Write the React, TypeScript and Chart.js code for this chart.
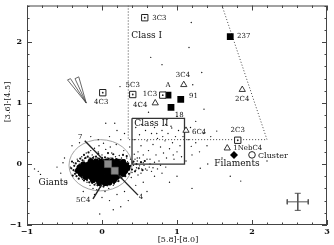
import React, { useEffect, useRef } from "react";
import { Chart, registerables } from "chart.js";

Chart.register(...registerables);

// ---------- data ----------
const xTicks = [-1, 0, 1, 2, 3];
const yTicks = [-1, 0, 1, 2];
const xTitle = "[5.8]-[8.0]";
const yTitle = "[3.6]-[4.5]";

const fieldStars: number[][] = [
  [-0.42,-0.05],[-0.38,0.02],[-0.36,-0.12],[-0.33,0.08],[-0.31,-0.18],[-0.29,-0.02],[-0.27,0.12],[-0.26,-0.25],[-0.24,0.05],[-0.22,-0.09],
  [-0.21,0.18],[-0.2,-0.3],[-0.19,0.01],[-0.17,0.1],[-0.16,-0.35],[-0.15,0.22],[-0.13,0.15],[-0.12,-0.4],[-0.1,0.26],[-0.09,0.08],
  [-0.07,-0.42],[-0.05,0.2],[-0.04,0.3],[-0.02,-0.38],[0.0,0.15],[0.02,0.34],[0.04,-0.45],[0.05,0.24],[0.07,0.1],[0.09,-0.4],
  [0.11,0.28],[0.13,0.18],[0.15,-0.35],[0.17,0.07],[0.19,0.32],[0.21,-0.28],[0.23,0.14],[0.25,-0.2],[0.27,0.04],[0.29,0.22],
  [0.31,-0.12],[0.33,0.1],[0.35,-0.05],[0.37,0.28],[0.39,-0.22],[0.41,0.02],[0.43,0.16],[0.45,-0.1],[0.47,0.05],[0.5,-0.03],
  [0.52,-0.15],[0.55,0.02],[0.58,-0.08],[0.6,0.08],[0.63,-0.05],[0.66,-0.12],[0.7,0.03],[0.74,-0.08],[0.78,-0.02],
  [-0.34,-0.08],[-0.3,0.04],[-0.28,-0.14],[-0.25,-0.04],[-0.23,0.09],[-0.21,-0.2],[-0.18,0.06],[-0.14,-0.28],[-0.11,0.12],[-0.08,-0.32],
  [-0.06,0.1],[-0.03,-0.3],[0.01,0.08],[0.03,-0.34],[0.06,0.06],[0.08,-0.3],[0.12,0.1],[0.14,-0.28],[0.18,0.12],[0.2,-0.22],
  [0.22,0.06],[0.24,-0.14],[0.26,0.1],[0.28,-0.08],[0.3,0.0],[0.32,-0.16],[0.34,0.04],[0.36,-0.1],[0.38,0.08],[0.4,-0.14],
  [0.42,-0.02],[0.44,0.08],[0.46,-0.06],[0.48,-0.18],[0.5,0.1],[0.53,-0.08],[0.56,-0.02],[0.6,-0.1],[0.64,0.0],[0.68,-0.06],
  [-0.5,0.1],[-0.55,-0.15],[-0.52,0.02],[-0.6,-0.05],[-0.85,-0.12],[-0.82,-0.17],[-0.9,-0.08],[-0.47,-0.3],[-0.4,0.3],[-0.3,0.35],
  [-0.25,-0.45],[-0.1,-0.5],[0.0,-0.55],[0.1,-0.6],[0.2,-0.5],[0.3,-0.45],[0.35,-0.6],[0.25,-0.7],[-0.03,-0.82],[0.15,-0.75],
  [0.45,-0.35],[0.55,-0.3],[0.6,-0.45],[0.7,-0.2],[0.8,-0.15],[0.85,-0.05],[0.9,-0.3],[1.0,-0.2],[1.31,-0.07],[1.41,0.0],
  [1.71,-0.2],[1.85,-0.28],[1.2,-0.4],[-0.05,0.4],[0.1,0.45],[0.2,0.55],[0.05,0.67],[0.17,0.67],[0.3,0.5],[0.25,0.4],[-0.15,0.45],
  [0.24,1.27],[0.8,1.63],[1.16,1.91],[1.19,2.32],[1.33,1.5],[1.36,0.9],[1.21,1.3],[0.65,1.75],[0.5,0.95],[0.62,0.85],
  [1.0,0.78],[1.25,0.7],[1.45,0.45],[1.53,0.54],[0.93,0.59],[1.19,0.29],[1.6,0.1],[2.2,0.05],
  [0.45,0.6],[0.5,0.48],[0.52,0.3],[0.55,0.15],[0.58,0.55],[0.6,0.38],[0.62,0.22],[0.64,0.08],[0.66,0.5],[0.68,0.32],
  [0.7,0.6],[0.72,0.15],[0.74,0.42],[0.76,0.05],[0.78,0.28],[0.8,0.55],[0.82,0.18],[0.84,0.38],[0.86,0.1],[0.88,0.5],
  [0.9,0.25],[0.92,0.62],[0.94,0.35],[0.96,0.08],[0.98,0.45],[1.0,0.2],[1.02,0.55],[1.04,0.3],[1.06,0.12],[0.48,0.2],
  [0.57,0.05],[0.73,0.5],[0.85,0.65],[0.95,0.15],[0.43,0.4],[0.47,0.1],[0.53,0.65],[0.67,0.7],[0.81,0.45],[1.08,0.45],
  [1.15,0.4],[1.2,0.15],[1.25,0.35],[1.3,0.2],[1.35,0.5],[1.4,0.3],[1.12,0.05],[1.18,0.6],
];

const giantHalo: number[][] = [
  [-0.38,-0.1],[-0.37,-0.03],[-0.36,-0.16],[-0.35,0.01],[-0.34,-0.2],[-0.33,-0.13],[-0.32,0.05],[-0.31,-0.24],[-0.3,-0.01],[-0.29,0.09],
  [-0.27,-0.22],[-0.26,0.06],[-0.24,-0.27],[-0.22,0.1],[-0.2,-0.26],[-0.19,0.12],[-0.17,-0.3],[-0.15,0.09],[-0.13,-0.31],[-0.12,0.1],
  [-0.1,-0.34],[-0.08,0.12],[-0.06,-0.35],[-0.04,0.09],[-0.02,-0.36],[0.0,0.1],[0.02,-0.37],[0.04,0.11],[0.07,-0.35],[0.09,0.09],
  [0.11,-0.33],[0.14,0.09],[0.16,-0.32],[0.19,0.08],[0.22,-0.28],[0.24,0.07],[0.26,-0.23],[0.3,0.06],[0.31,-0.2],[0.35,0.01],
  [0.36,-0.16],[0.38,-0.03],[0.4,-0.09],[0.42,0.04],[0.44,-0.12],[0.46,0.0],[0.49,-0.07],[0.52,0.03],[0.54,-0.1],[0.57,0.05],
  [-0.41,-0.07],[-0.4,0.04],[-0.39,-0.19],[0.33,0.13],[0.28,0.15],[-0.24,0.15],[-0.18,0.19],[0.15,0.16],[0.08,0.18],[-0.05,0.17],
];

const giantCore: number[][] = [
  [-0.15,0.04],[-0.08,0.04],[-0.01,0.04],[0.06,0.04],[0.13,0.04],[0.2,0.04],[0.28,0.03],
  [-0.25,-0.01],[-0.18,-0.01],[-0.11,-0.01],[-0.04,-0.01],[0.03,-0.01],[0.1,-0.01],[0.17,-0.01],[0.24,-0.01],[0.32,-0.02],
  [-0.3,-0.06],[-0.23,-0.06],[-0.16,-0.06],[-0.09,-0.06],[-0.02,-0.06],[0.05,-0.06],[0.12,-0.06],[0.19,-0.06],[0.26,-0.06],[0.34,-0.06],
  [-0.32,-0.11],[-0.25,-0.11],[-0.18,-0.11],[-0.11,-0.11],[-0.04,-0.11],[0.03,-0.11],[0.1,-0.11],[0.17,-0.11],[0.24,-0.11],[0.31,-0.11],
  [-0.28,-0.16],[-0.21,-0.16],[-0.14,-0.16],[-0.07,-0.16],[0.0,-0.16],[0.07,-0.16],[0.14,-0.16],[0.21,-0.16],[0.28,-0.16],
  [-0.22,-0.21],[-0.15,-0.21],[-0.08,-0.21],[-0.01,-0.21],[0.06,-0.21],[0.13,-0.21],[0.2,-0.21],
  [-0.12,-0.26],[-0.05,-0.26],[0.02,-0.26],[0.09,-0.26],[0.16,-0.26],
  [-0.03,-0.31],[0.04,-0.31],[0.1,-0.3],
];

const openSquares: number[][] = [[0.57,2.4],[0.01,1.17],[0.41,1.14],[0.81,1.13],[1.81,0.39]];
const filledSquares: number[][] = [[0.88,1.13],[1.05,1.06],[0.92,0.93],[1.71,2.09]];
const openTriangles: number[][] = [[1.09,1.3],[0.71,1.0],[1.87,1.22],[1.12,0.55],[1.67,0.26]];
const filledDiamond: number[][] = [[1.76,0.15]];
const clusterCircle: number[][] = [[2.0,0.15]];
const graySquares: number[][] = [[0.08,0.0],[0.17,-0.11]];

const classIIBox: number[][] = [[0.4,0.75],[1.1,0.75],[1.1,0],[0.4,0],[0.4,0.75]];
const classIBoundary: number[][] = [[0.35,2.6],[0.35,0.4],[2.2,0.4],[1.6,2.6]];
const line74: number[][] = [[-0.23,0.38],[0.48,-0.51]];
const line5C4: number[][] = [[0.0,-0.33],[-0.12,-0.57]];
const reddenA: number[][] = [[-0.21,1.0],[-0.46,1.38],[-0.42,1.4],[-0.21,1.0]];
const reddenB: number[][] = [[-0.21,1.0],[-0.36,1.4],[-0.31,1.43],[-0.21,1.0]];
const errH: number[][] = [[2.47,-0.62],[2.75,-0.62]];
const errV: number[][] = [[2.61,-0.48],[2.61,-0.76]];
const errCapL: number[][] = [[2.47,-0.58],[2.47,-0.66]];
const errCapR: number[][] = [[2.75,-0.58],[2.75,-0.66]];
const errCapT: number[][] = [[2.57,-0.48],[2.65,-0.48]];
const errCapB: number[][] = [[2.57,-0.76],[2.65,-0.76]];

const giantsEllipse = { cx: -0.02, cy: -0.02, rx: 0.42, ry: 0.42 };

// [text, x, y, align, size]
const labels: [string, number, number, CanvasTextAlign, number][] = [
  ["Class I", 0.39, 2.1, "left", 9],
  ["Class II", 0.43, 0.67, "left", 9],
  ["3C3", 0.67, 2.4, "left", 7],
  ["237", 1.8, 2.09, "left", 7],
  ["5C3", 0.41, 1.29, "center", 7],
  ["1C3", 0.64, 1.14, "center", 7],
  ["A", 0.88, 1.3, "center", 7],
  ["3C4", 1.08, 1.45, "center", 7],
  ["4C4", 0.51, 0.96, "center", 7],
  ["91", 1.16, 1.11, "left", 7],
  ["18", 0.97, 0.8, "left", 7],
  ["2C4", 1.87, 1.06, "center", 7],
  ["4C3", -0.01, 1.01, "center", 7],
  ["6C4", 1.2, 0.52, "left", 7],
  ["2C3", 1.81, 0.55, "center", 7],
  ["1NebC4", 1.75, 0.26, "left", 7],
  ["Cluster", 2.08, 0.13, "left", 8],
  ["Filaments", 1.8, 0.0, "center", 9],
  ["Giants", -0.65, -0.31, "center", 9],
  ["7", -0.29, 0.44, "center", 7],
  ["4", 0.52, -0.55, "center", 7],
  ["5C4", -0.25, -0.6, "center", 7],
];

const SERIF = "'DejaVu Serif', 'Liberation Serif', serif";

const xy = (a: number[][]) => a.map(([x, y]) => ({ x, y }));

function lineDs(data: number[][], color: string, width: number, dash: number[] = []) {
  return {
    type: "scatter" as const,
    data: xy(data),
    showLine: true,
    borderColor: color,
    borderWidth: width,
    borderDash: dash,
    pointRadius: 0,
    fill: false,
    order: 5,
  };
}

const decorPlugin = {
  id: "decor",
  beforeDatasetsDraw(chart: any) {
    const { ctx, scales } = chart;
    const xs = scales.x, ys = scales.y;
    ctx.save();
    ctx.strokeStyle = "#9a9a9a";
    ctx.lineWidth = 0.9;
    const cx = xs.getPixelForValue(giantsEllipse.cx);
    const cy = ys.getPixelForValue(giantsEllipse.cy);
    const rx = Math.abs(xs.getPixelForValue(giantsEllipse.cx + giantsEllipse.rx) - cx);
    const ry = Math.abs(ys.getPixelForValue(giantsEllipse.cy + giantsEllipse.ry) - cy);
    ctx.beginPath();
    ctx.ellipse(cx, cy, rx, ry, 0, 0, Math.PI * 2);
    ctx.stroke();
    ctx.restore();
  },
  afterDatasetsDraw(chart: any) {
    const { ctx, scales, chartArea: a } = chart;
    const xs = scales.x, ys = scales.y;
    ctx.save();
    ctx.fillStyle = "#111";
    ctx.textBaseline = "middle";
    for (const [t, x, y, al, sz] of labels) {
      ctx.font = `${sz}px ${SERIF}`;
      ctx.textAlign = al;
      ctx.fillText(t, xs.getPixelForValue(x), ys.getPixelForValue(y));
    }
    ctx.strokeStyle = "#444";
    ctx.lineWidth = 1;
    ctx.strokeRect(a.left + 0.5, a.top + 0.5, a.right - a.left - 1, a.bottom - a.top - 1);
    const tick = (v: number, major: boolean, axis: "x" | "y") => {
      const L = major ? 5 : 2.5;
      ctx.beginPath();
      if (axis === "x") {
        const p = Math.round(xs.getPixelForValue(v)) + 0.5;
        ctx.moveTo(p, a.bottom); ctx.lineTo(p, a.bottom - L);
        ctx.moveTo(p, a.top); ctx.lineTo(p, a.top + L);
      } else {
        const p = Math.round(ys.getPixelForValue(v)) + 0.5;
        ctx.moveTo(a.left, p); ctx.lineTo(a.left + L, p);
        ctx.moveTo(a.right, p); ctx.lineTo(a.right - L, p);
      }
      ctx.stroke();
    };
    for (let i = 0; i <= 20; i++) tick(-1 + i * 0.2, i % 5 === 0, "x");
    for (let i = 0; i <= 18; i++) tick(-1 + i * 0.2, i % 5 === 0, "y");
    ctx.fillStyle = "#111";
    ctx.font = `bold 8px ${SERIF}`;
    ctx.textAlign = "center";
    ctx.textBaseline = "middle";
    for (const v of xTicks) {
      ctx.fillText(v === -1 ? "\u22121" : String(v), xs.getPixelForValue(v), a.bottom + 7);
    }
    ctx.textAlign = "right";
    for (const v of yTicks) {
      ctx.fillText(v === -1 ? "\u22121" : String(v), a.left - 5, ys.getPixelForValue(v));
    }
    ctx.font = `8px ${SERIF}`;
    ctx.textAlign = "center";
    ctx.fillText(xTitle, 178, 240);
    ctx.translate(8, 102);
    ctx.rotate(-Math.PI / 2);
    ctx.fillText(yTitle, 0, 0);
    ctx.restore();
  },
};

export default function App() {
  const ref = useRef<HTMLCanvasElement | null>(null);
  useEffect(() => {
    document.body.style.margin = "0";
    const canvas = ref.current!;
    const gray = "#555";
    const chart = new Chart(canvas, {
      type: "scatter",
      data: {
        datasets: [
          { data: xy(fieldStars), pointRadius: 0.7, pointBackgroundColor: "#111", pointBorderWidth: 0, order: 11 },
          { data: xy(giantHalo), pointRadius: 1.1, pointBackgroundColor: "#111", pointBorderWidth: 0, order: 10 },
          { data: xy(giantCore), pointRadius: 3.1, pointBackgroundColor: "#000", pointBorderWidth: 0, order: 9 },
          lineDs(classIIBox, "#333", 1.3),
          lineDs(classIBoundary, "#444", 1, [1, 2]),
          lineDs(line74, "#222", 1.4),
          lineDs(line5C4, "#222", 1.4),
          lineDs(reddenA, "#444", 0.8),
          lineDs(reddenB, "#444", 0.8),
          lineDs(errH, gray, 1),
          lineDs(errV, gray, 1),
          lineDs(errCapL, gray, 1),
          lineDs(errCapR, gray, 1),
          lineDs(errCapT, gray, 1),
          lineDs(errCapB, gray, 1),
          { data: xy(graySquares), pointStyle: "rect", pointRadius: 5, pointBackgroundColor: "#8a8a8a", pointBorderColor: "#777", pointBorderWidth: 0.5, order: 4 },
          { data: xy(openSquares), pointStyle: "rect", pointRadius: 4.5, pointBackgroundColor: "#fff", pointBorderColor: "#222", pointBorderWidth: 1, order: 3 },
          { data: xy(openSquares), pointStyle: "circle", pointRadius: 0.9, pointBackgroundColor: "#222", pointBorderWidth: 0, order: 2 },
          { data: xy(filledSquares), pointStyle: "rect", pointRadius: 4.8, pointBackgroundColor: "#000", pointBorderColor: "#000", pointBorderWidth: 0, order: 3 },
          { data: xy(openTriangles), pointStyle: "triangle", pointRadius: 3.6, pointBackgroundColor: "#fff", pointBorderColor: "#222", pointBorderWidth: 0.9, order: 3 },
          { data: xy(filledDiamond), pointStyle: "rectRot", pointRadius: 4, pointBackgroundColor: "#000", pointBorderColor: "#000", pointBorderWidth: 0, order: 3 },
          { data: xy(clusterCircle), pointStyle: "circle", pointRadius: 3.3, pointBackgroundColor: "#fff", pointBorderColor: "#222", pointBorderWidth: 1, order: 3 },
        ] as any,
      },
      options: {
        animation: false,
        responsive: false,
        devicePixelRatio: 1,
        layout: { padding: { top: 4, right: 7, left: 0, bottom: 0 } },
        plugins: { legend: { display: false }, tooltip: { enabled: false } },
        scales: {
          x: {
            type: "linear", min: -1, max: 3,
            ticks: { display: false }, grid: { display: false }, border: { display: false },
            afterFit: (s: any) => { s.height = 20; },
          },
          y: {
            type: "linear", min: -1, max: 2.6,
            ticks: { display: false }, grid: { display: false }, border: { display: false },
            afterFit: (s: any) => { s.width = 27; },
          },
        },
      } as any,
      plugins: [decorPlugin],
    });
    return () => chart.destroy();
  }, []);
  return (
    <div style={{ width: 334, height: 245, background: "#fff" }}>
      <canvas ref={ref} width={334} height={245} />
    </div>
  );
}
